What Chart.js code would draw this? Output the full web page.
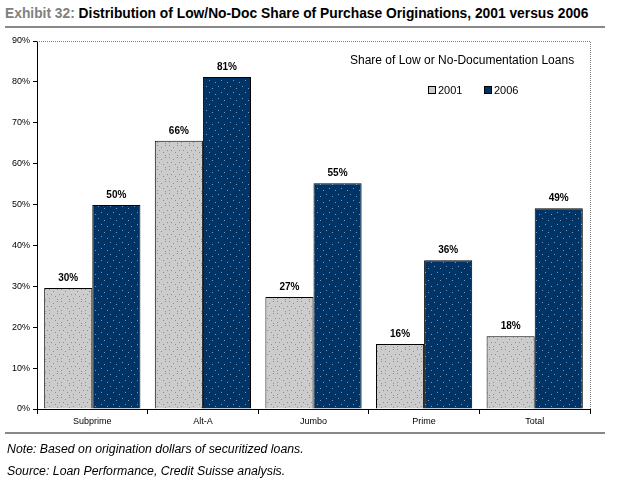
<!DOCTYPE html>
<html>
<head>
<meta charset="utf-8">
<script src="https://cdn.jsdelivr.net/npm/chart.js@4.4.0/dist/chart.umd.min.js"></script>
<style>
  body { margin:0; background:#fff; }
  #wrap { position:relative; width:618px; height:487px; overflow:hidden; font-family:"Liberation Sans", Arial, sans-serif; }
  #title { position:absolute; left:5px; top:6px; font-size:13.8px; font-weight:bold; color:#000; white-space:nowrap; }
  #title span { color:#808080; }
  .rule { position:absolute; left:5px; width:600px; height:2px; background:#888; }
  .note { position:absolute; left:7px; font-size:12.3px; font-style:italic; color:#000; white-space:nowrap; }
  #legend { position:absolute; left:340px; top:53px; width:250px; color:#000; }
  #legTitle { position:absolute; left:10px; top:0; font-size:12px; white-space:nowrap; }
  .item { position:absolute; top:31px; font-size:11px; white-space:nowrap; }
  .box { display:inline-block; width:6px; height:6px; border:1px solid #000; margin-right:2px; vertical-align:0px; }
  canvas { position:absolute; left:0; top:0; }
</style>
</head>
<body>
<div id="wrap">
  <div id="title"><span>Exhibit 32:</span> Distribution of Low/No-Doc Share of Purchase Originations, 2001 versus 2006</div>
  <div class="rule" style="top:26px"></div>
  <canvas id="myChart" width="618" height="487"></canvas>
  <div id="legend">
    <div id="legTitle">Share of Low or No-Documentation Loans</div>
    <div class="item" style="left:88px"><span class="box" style="background:#cccccc"></span>2001</div>
    <div class="item" style="left:144px"><span class="box" style="background:#003366"></span>2006</div>
  </div>
  <div class="rule" style="top:432px"></div>
  <div class="note" style="top:442px">Note: Based on origination dollars of securitized loans.</div>
  <div class="note" style="top:464px">Source: Loan Performance, Credit Suisse analysis.</div>
</div>
<script>
'use strict';
var categories=['Subprime','Alt-A','Jumbo','Prime','Total'];
var share2001=[29.6,65.6,27.4,15.9,17.8];
var share2006=[49.9,81.2,55.2,36.4,49.1];
var labels2001=['30%','66%','27%','16%','18%'];
var labels2006=['50%','81%','55%','36%','49%'];

// dotted fills
function dotPattern(bg,dot,dots){
    var c=document.createElement('canvas');
    c.width=12; c.height=12;
    var g=c.getContext('2d');
    g.fillStyle=bg; g.fillRect(0,0,12,12);
    g.fillStyle=dot;
    for (var i=0;i<dots.length;i++){ g.fillRect(dots[i][0],dots[i][1],1,1); }
    return g.createPattern(c,'repeat');
}
var ctx=document.getElementById('myChart').getContext('2d');
var grayFill=dotPattern('#cccccc','#8c8c8c',[[1,1],[5,3],[9,1],[3,6],[7,8],[11,6],[1,10],[9,11]]);
var navyFill=dotPattern('#003366','#7f97b3',[[2,2],[8,4],[5,8],[11,10]]);

var valueLabels={
    id:'valueLabels',
    afterDatasetsDraw:function(chart){
        var c=chart.ctx;
        c.save();
        c.font='bold 10px "Liberation Sans", Arial, sans-serif';
        c.fillStyle='#000';
        c.textAlign='center';
        c.textBaseline='bottom';
        [labels2001,labels2006].forEach(function(lbl,d){
            chart.getDatasetMeta(d).data.forEach(function(bar,i){
                c.fillText(lbl[i],bar.x,bar.y-5);
            });
        });
        c.restore();
    }
};
var frame={
    id:'frame',
    beforeDatasetsDraw:function(chart){
        var a=chart.chartArea, c=chart.ctx;
        c.save();
        c.strokeStyle='#808080';
        c.lineWidth=1;
        c.setLineDash([1,1]);
        c.beginPath();
        c.moveTo(a.left,a.top+0.5); c.lineTo(a.right+0.5,a.top+0.5); c.lineTo(a.right+0.5,a.bottom);
        c.stroke();
        c.restore();
    }
};

var chart=new Chart(ctx,{
    type:'bar',
    data:{
        labels:categories,
        datasets:[
            {label:'2001',data:share2001,backgroundColor:grayFill,borderColor:'#000',borderWidth:1},
            {label:'2006',data:share2006,backgroundColor:navyFill,borderColor:'#000',borderWidth:1}
        ]
    },
    options:{
        responsive:false,
        animation:false,
        layout:{padding:{left:0,top:41,right:28,bottom:56}},
        datasets:{bar:{categoryPercentage:0.87,barPercentage:1}},
        plugins:{legend:{display:false},tooltip:{enabled:false}},
        scales:{
            x:{
                afterFit:function(s){s.height=22;},
                grid:{offset:true,drawOnChartArea:false,drawTicks:true,tickLength:5,color:'#000'},
                border:{color:'#000'},
                ticks:{color:'#000',font:{size:9,family:'"Liberation Sans", Arial, sans-serif'},padding:2}
            },
            y:{
                min:0,max:90,
                afterFit:function(s){s.width=37;},
                grid:{drawOnChartArea:false,drawTicks:true,tickLength:4,color:'#000'},
                border:{color:'#000'},
                ticks:{stepSize:10,color:'#000',padding:3,font:{size:9,family:'"Liberation Sans", Arial, sans-serif'},
                    callback:function(v){return v+'%';}}
            }
        }
    },
    plugins:[frame,valueLabels]
});
</script>
</body>
</html>
